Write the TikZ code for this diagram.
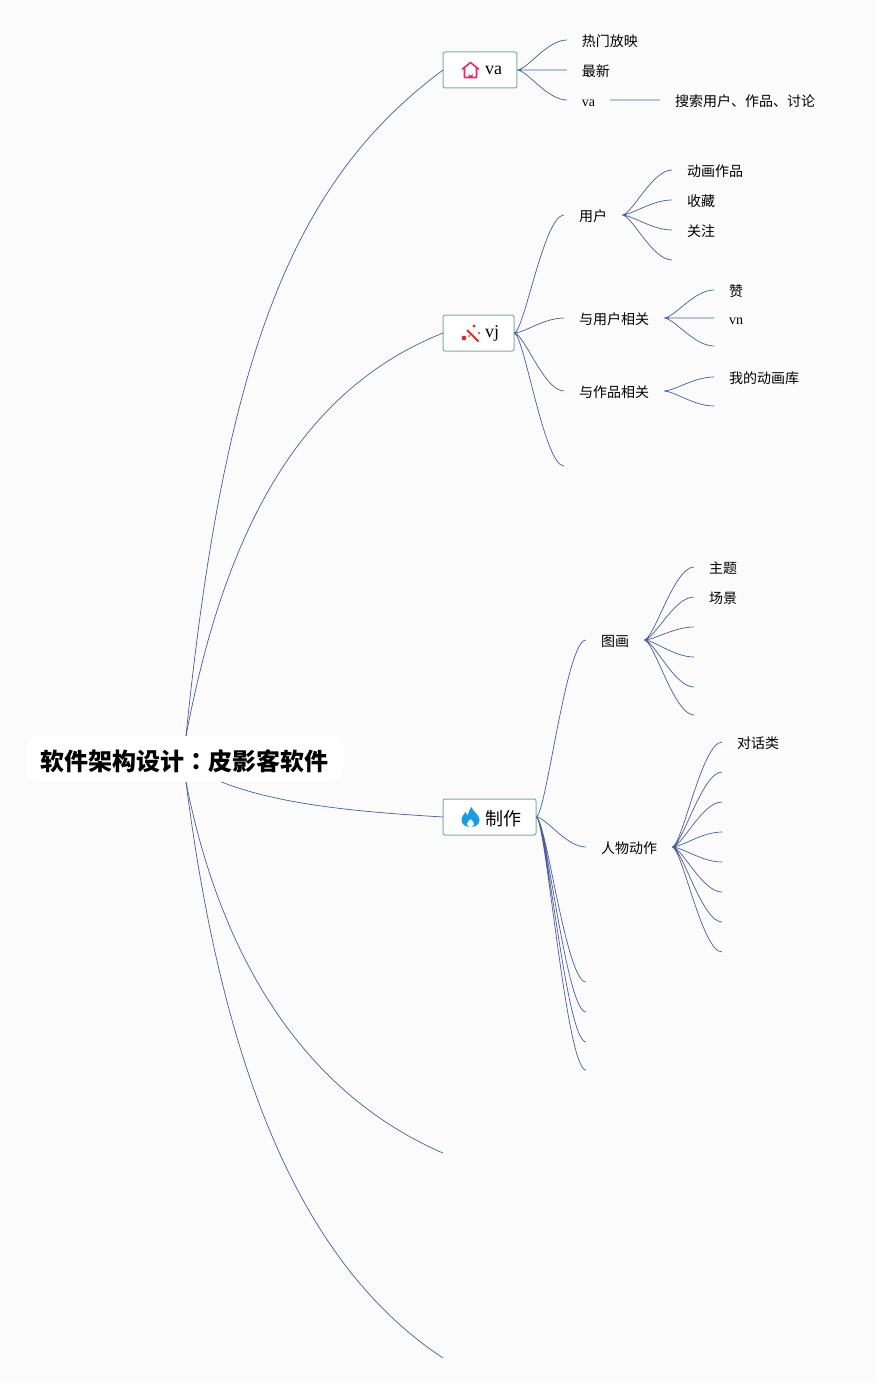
\documentclass[tikz,border=0pt]{standalone}
\usepackage{fontspec}
\setmainfont{Liberation Serif}
\newfontfamily\cjk{Noto Sans CJK SC}
\newfontfamily\cjktc{Noto Sans CJK TC}
\usepackage{tikz}
\usetikzlibrary{positioning}
\usetikzlibrary{calc}
\definecolor{paper}{HTML}{FBFBFC}
\definecolor{twigblue}{HTML}{4A5C9E}
\definecolor{boxedge}{HTML}{7FADA3}
\definecolor{housered}{HTML}{E0325F}
\definecolor{wandred}{HTML}{D6332A}
\definecolor{flameblue}{HTML}{1E9BE0}
\tikzset{
    link/.style={draw=twigblue, line width=0.7pt},
    twig/.style={to path={.. controls ($(\tikztostart)!0.2!(\tikztostart -| \tikztotarget)$) and ($(\tikztotarget)!0.4!(\tikztotarget -| \tikztostart)$) .. (\tikztotarget)}},
    rootbox/.style={fill=white, rounded corners=12pt, minimum width=317pt, minimum height=46pt, inner sep=0pt, outer sep=0pt, text height=22pt, text depth=0pt, font=\cjk\bfseries\fontsize{24}{28}\selectfont},
    topbox/.style={anchor=west, draw=boxedge, fill=white, line width=1pt, rounded corners=2pt, minimum height=36pt, inner ysep=0pt, inner xsep=15pt, outer sep=0pt, font=\fontsize{18}{22}\selectfont},
    leaf/.style={inner ysep=0pt, inner xsep=15pt, outer sep=0pt, text height=13pt, text depth=0pt, font=\cjk\fontsize{14}{16}\selectfont},
    latinleaf/.style={leaf, font=\fontsize{14}{16}\selectfont},
    house/.pic={
        \draw[housered, line width=1.6pt, line join=round, line cap=round] (-8,-1) -- (0,-7.5) -- (8,-1) (-6,-2) -- (-6,7.5) -- (6,7.5) -- (6,-2);
        \fill[housered] (-2,7.5) -- (-2,3.5) arc[start angle=180, end angle=0, radius=2] -- (2,7.5) -- cycle;
    },
    wand/.pic={
        \draw[wandred, line width=2pt] (-4,-3) -- (7.5,8.5);
        \fill[wandred] (-7,5) circle[radius=2.4] (3,-7) circle[radius=1.7] (8,0) circle[radius=1.2] (-2,3) circle[radius=1];
    },
    flame/.pic={
        \fill[flameblue] (1,-10) .. controls (2,-5) and (9,-3) .. (9,3) .. controls (9,7.5) and (5,10) .. (0,10) .. controls (-5,10) and (-9,7.5) .. (-9,3) .. controls (-9,-1) and (-6,-3) .. (-5,-5) .. controls (-4,-3) and (-3.5,-2) .. (-3,-1.5) .. controls (-2,-4) and (-1,-8) .. (1,-10) -- cycle;
        \fill[white] (0,2) .. controls (1,4) and (4,5) .. (3.5,7) .. controls (3,9) and (1.5,10) .. (0,10) .. controls (-1.5,10) and (-3,9) .. (-3.5,7) .. controls (-4,5) and (-1,4) .. (0,2) -- cycle;
    },
}
\begin{document}
\begin{tikzpicture}[x=1pt, y=-1pt]
    \fill[paper] (0,0) rectangle (876,1383);
    \useasboundingbox (0,0) rectangle (876,1383);

    \node [rootbox] (root) at (184.5,759) {软件架构设计{\cjktc\bfseries ：}皮影客软件};
    \node [topbox] (va) at (443,70) {\hspace*{27pt}va};
    \node [topbox] (vj) at (443,333) {\hspace*{27pt}vj};
    \node [topbox, text height=16pt, text depth=0pt] (make) at (443,817) {\hspace*{27pt}{\cjk 制作}};
    \coordinate (rootup) at ($(root.north)+(1.5,0)$);
    \coordinate (rootdown) at ($(root.south)+(1.5,0)$);
    \coordinate (rootmake) at ($(root.south)+(37,0)$);
    \coordinate (rootd) at (443,1153);
    \coordinate (roote) at (443,1358);

    \pic at ($(va.west)+(27.5,0)$) {house};
    \pic at ($(vj.west)+(28,0)$) {wand};
    \pic at ($(make.west)+(27.5,0)$) {flame};

    \node [leaf, right=50pt of va.east, yshift=30pt] (hot) {热门放映};
    \node [leaf, right=50pt of va.east] (latest) {最新};
    \node [latinleaf, right=50pt of va.east, yshift=-30pt] (vaitem) {va};
    \node [leaf, right=50pt of vaitem.east] (search) {搜索用户、作品、讨论};

    \node [leaf, right=50pt of vj.east, yshift=118pt] (user) {用户};
    \node [leaf, right=50pt of vj.east, yshift=15pt] (aboutuser) {与用户相关};
    \node [leaf, right=50pt of vj.east, yshift=-58pt] (aboutwork) {与作品相关};
    \coordinate [right=50pt of vj.east, yshift=-133pt] (vjend);

    \node [leaf, right=50pt of user.east, yshift=45pt] (anim) {动画作品};
    \node [leaf, right=50pt of user.east, yshift=15pt] (fav) {收藏};
    \node [leaf, right=50pt of user.east, yshift=-15pt] (follow) {关注};
    \coordinate [right=50pt of user.east, yshift=-45pt] (userend);

    \node [leaf, right=50pt of aboutuser.east, yshift=28pt] (like) {赞};
    \node [latinleaf, right=50pt of aboutuser.east] (vn) {vn};
    \coordinate [right=50pt of aboutuser.east, yshift=-28pt] (aboutuserend);

    \node [leaf, right=50pt of aboutwork.east, yshift=14pt] (library) {我的动画库};
    \coordinate [right=50pt of aboutwork.east, yshift=-15pt] (aboutworkend);

    \node [leaf, right=50pt of make.east, yshift=177pt] (draw) {图画};
    \node [leaf, right=50pt of make.east, yshift=-30pt] (figure) {人物动作};
    \coordinate [right=50pt of make.east, yshift=-165pt] (makea);
    \coordinate [right=50pt of make.east, yshift=-195pt] (makeb);
    \coordinate [right=50pt of make.east, yshift=-225pt] (makec);
    \coordinate [right=50pt of make.east, yshift=-253pt] (maked);

    \node [leaf, right=50pt of draw.east, yshift=73pt] (theme) {主题};
    \node [leaf, right=50pt of draw.east, yshift=43pt] (scene) {场景};
    \coordinate [right=50pt of draw.east, yshift=13pt] (drawa);
    \coordinate [right=50pt of draw.east, yshift=-17pt] (drawb);
    \coordinate [right=50pt of draw.east, yshift=-47pt] (drawc);
    \coordinate [right=50pt of draw.east, yshift=-75pt] (drawd);

    \node [leaf, right=50pt of figure.east, yshift=105pt] (dialog) {对话类};
    \coordinate [right=50pt of figure.east, yshift=75pt] (figa);
    \coordinate [right=50pt of figure.east, yshift=45pt] (figb);
    \coordinate [right=50pt of figure.east, yshift=15pt] (figc);
    \coordinate [right=50pt of figure.east, yshift=-15pt] (figd);
    \coordinate [right=50pt of figure.east, yshift=-45pt] (fige);
    \coordinate [right=50pt of figure.east, yshift=-75pt] (figf);
    \coordinate [right=50pt of figure.east, yshift=-105pt] (figg);

    \draw [link] (rootup) .. controls (225,350) and (295,180) .. (va.west);
    \draw [link] (rootup) .. controls (225,530) and (300,390) .. (vj.west);
    \draw [link] (rootmake) .. controls (280,805) and (360,812) .. (make.west);
    \draw [link] (rootdown) .. controls (225,980) and (320,1100) .. (rootd);
    \draw [link] (rootdown) .. controls (225,1090) and (310,1270) .. (roote);

    \draw [link] (va.east) to[twig] (hot.west) (va.east) -- (latest.west) (va.east) to[twig] (vaitem.west) (vaitem.east) -- (search.west);
    \draw [link] (vj.east) to[twig] (user.west) (vj.east) to[twig] (aboutuser.west) (vj.east) to[twig] (aboutwork.west) (vj.east) to[twig] (vjend);
    \draw [link] (user.east) to[twig] (anim.west) (user.east) to[twig] (fav.west) (user.east) to[twig] (follow.west) (user.east) to[twig] (userend);
    \draw [link] (aboutuser.east) to[twig] (like.west) (aboutuser.east) -- (vn.west) (aboutuser.east) to[twig] (aboutuserend);
    \draw [link] (aboutwork.east) to[twig] (library.west) (aboutwork.east) to[twig] (aboutworkend);
    \draw [link] (make.east) to[twig] (draw.west) (make.east) to[twig] (figure.west) (make.east) to[twig] (makea) (make.east) to[twig] (makeb) (make.east) to[twig] (makec) (make.east) to[twig] (maked);
    \draw [link] (draw.east) to[twig] (theme.west) (draw.east) to[twig] (scene.west) (draw.east) to[twig] (drawa) (draw.east) to[twig] (drawb) (draw.east) to[twig] (drawc) (draw.east) to[twig] (drawd);
    \draw [link] (figure.east) to[twig] (dialog.west) (figure.east) to[twig] (figa) (figure.east) to[twig] (figb) (figure.east) to[twig] (figc) (figure.east) to[twig] (figd) (figure.east) to[twig] (fige) (figure.east) to[twig] (figf) (figure.east) to[twig] (figg);
\end{tikzpicture}
\end{document}
